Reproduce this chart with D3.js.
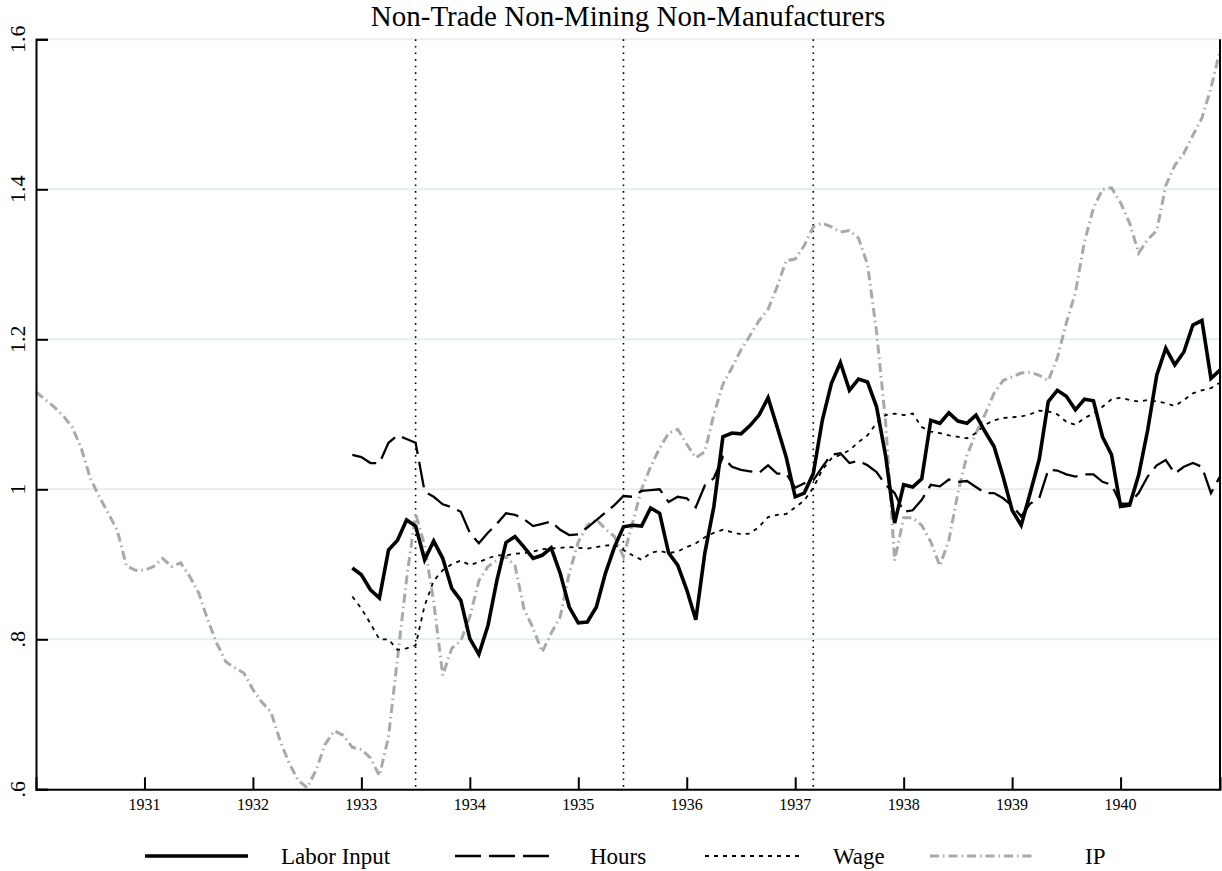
<!DOCTYPE html>
<html>
<head>
<meta charset="utf-8">
<script src="https://cdn.jsdelivr.net/npm/d3@7"></script>
<style>
    body { margin: 0; background: #fff; }
    svg { display: block; font-family: "Liberation Serif", "Times New Roman", serif; }
</style>
</head>
<body>
<div id="chart"></div>
<script>
// Monthly series, first value = January 1930 for IP, December 1932 for the others
const ipStart = 1930;
const ipValues = [
    1.130, 1.120, 1.110, 1.098, 1.083, 1.055, 1.015, 0.990, 0.968, 0.945, 0.898, 0.892,
    0.892, 0.897, 0.908, 0.897, 0.902, 0.884, 0.862, 0.826, 0.795, 0.770, 0.762, 0.755,
    0.733, 0.716, 0.703, 0.665, 0.635, 0.612, 0.602, 0.626, 0.660, 0.678, 0.672, 0.656,
    0.653, 0.642, 0.618, 0.670, 0.775, 0.880, 0.968, 0.925, 0.850, 0.752, 0.788, 0.798,
    0.830, 0.878, 0.897, 0.905, 0.910, 0.898, 0.840, 0.815, 0.783, 0.808, 0.830, 0.888,
    0.930, 0.952, 0.960, 0.947, 0.937, 0.910, 0.955, 1.000, 1.030, 1.055, 1.075, 1.080,
    1.060, 1.042, 1.050, 1.100, 1.140, 1.162, 1.186, 1.205, 1.225, 1.240, 1.270, 1.305,
    1.307, 1.325, 1.350, 1.355, 1.350, 1.343, 1.345, 1.335, 1.300, 1.210, 1.090, 0.905,
    0.962, 0.962, 0.952, 0.930, 0.898, 0.932, 0.995, 1.045, 1.075, 1.100, 1.128, 1.145,
    1.150, 1.155, 1.156, 1.152, 1.145, 1.175, 1.222, 1.262, 1.330, 1.375, 1.400, 1.402,
    1.382, 1.355, 1.315, 1.333, 1.345, 1.405, 1.432, 1.448, 1.472, 1.495, 1.535, 1.585
];

const laborStart = 1932 + 11 / 12;
const laborInput = [
    0.895,
    0.886, 0.866, 0.855, 0.919, 0.932, 0.959, 0.951, 0.906, 0.931, 0.908, 0.868, 0.852,
    0.801, 0.780, 0.818, 0.879, 0.929, 0.937, 0.923, 0.908, 0.912, 0.922, 0.888, 0.843,
    0.822, 0.823, 0.843, 0.888, 0.923, 0.950, 0.952, 0.951, 0.975, 0.968, 0.915, 0.899,
    0.866, 0.826, 0.915, 0.977, 1.070, 1.075, 1.074, 1.085, 1.099, 1.122, 1.083, 1.043,
    0.990, 0.995, 1.021, 1.092, 1.141, 1.169, 1.132, 1.147, 1.143, 1.110, 1.045, 0.955,
    1.006, 1.003, 1.014, 1.092, 1.088, 1.102, 1.091, 1.088, 1.099, 1.077, 1.057, 1.017,
    0.972, 0.952, 0.995, 1.040, 1.117, 1.132, 1.124, 1.106, 1.120, 1.118, 1.070, 1.046,
    0.977, 0.979, 1.019, 1.079, 1.152, 1.188, 1.166, 1.183, 1.219, 1.225, 1.148, 1.159
];
const hours = [
    1.046,
    1.043, 1.035, 1.035, 1.062, 1.072, 1.067, 1.062, 0.997, 0.990, 0.980, 0.976, 0.970,
    0.942, 0.928, 0.942, 0.954, 0.968, 0.966, 0.960, 0.951, 0.954, 0.957, 0.946, 0.939,
    0.940, 0.949, 0.959, 0.969, 0.979, 0.991, 0.990, 0.998, 0.999, 1.000, 0.983, 0.990,
    0.988, 0.976, 1.005, 1.015, 1.043, 1.030, 1.026, 1.024, 1.022, 1.032, 1.021, 1.021,
    1.002, 1.008, 1.012, 1.030, 1.046, 1.048, 1.035, 1.038, 1.032, 1.023, 1.006, 0.995,
    0.970, 0.972, 0.986, 1.006, 1.004, 1.013, 1.010, 1.011, 1.003, 0.995, 0.995, 0.988,
    0.978, 0.964, 0.981, 0.988, 1.026, 1.025, 1.020, 1.017, 1.020, 1.020, 1.010, 1.006,
    0.981, 0.981, 0.995, 1.017, 1.032, 1.039, 1.021, 1.030, 1.035, 1.030, 0.995, 1.017
];
const wage = [
    0.857,
    0.841, 0.821, 0.800, 0.800, 0.786, 0.788, 0.792, 0.845, 0.878, 0.892, 0.900, 0.905,
    0.899, 0.903, 0.908, 0.912, 0.912, 0.914, 0.915, 0.917, 0.920, 0.921, 0.922, 0.923,
    0.922, 0.921, 0.923, 0.925, 0.926, 0.919, 0.912, 0.906, 0.915, 0.918, 0.915, 0.917,
    0.923, 0.928, 0.936, 0.942, 0.946, 0.943, 0.940, 0.941, 0.950, 0.963, 0.966, 0.967,
    0.976, 0.985, 1.002, 1.026, 1.041, 1.046, 1.052, 1.063, 1.072, 1.088, 1.099, 1.101,
    1.099, 1.101, 1.083, 1.077, 1.075, 1.072, 1.070, 1.068, 1.075, 1.086, 1.092, 1.095,
    1.096, 1.097, 1.100, 1.105, 1.104, 1.100, 1.090, 1.086, 1.095, 1.101, 1.110, 1.120,
    1.122, 1.119, 1.117, 1.119, 1.117, 1.115, 1.111, 1.119, 1.128, 1.132, 1.135, 1.142
];

// Axis ticks and the three marked policy dates (Jul 1933, Jun 1935, Mar 1937)
const yearTicks = [1931, 1932, 1933, 1934, 1935, 1936, 1937, 1938, 1939, 1940];
const valueTicks = [0.6, 0.8, 1.0, 1.2, 1.4, 1.6];
const valueTickLabels = [".6", ".8", "1", "1.2", "1.4", "1.6"];
const eventDates = [1933 + 6 / 12, 1935 + 5 / 12, 1937 + 2 / 12];

const titleText = "Non-Trade Non-Mining Non-Manufacturers";
const seriesNames = ["Labor Input", "Hours", "Wage", "IP"];

const width = 1222, height = 871;
const plot = { left: 36, right: 1220, top: 39.3, bottom: 789.3 };

const styles = [
    { color: "#000", width: 3.6, dash: null },
    { color: "#000", width: 2.3, dash: "26,8" },
    { color: "#000", width: 1.8, dash: "4,5" },
    { color: "#a9a9a9", width: 3, dash: "9,4,1.5,4" }
];

const svg = d3.select("#chart")
    .append("svg")
    .attr("width", width)
    .attr("height", height);

const x = d3.scaleLinear()
    .domain([ipStart, ipStart + 131 / 12])
    .range([plot.left, plot.right]);

const y = d3.scaleLinear()
    .domain([0.6, 1.6])
    .range([plot.bottom, plot.top]);

// Light gridlines at each value tick
svg.append("g")
    .selectAll("line")
    .data(valueTicks)
    .join("line")
    .attr("x1", plot.left)
    .attr("x2", plot.right)
    .attr("y1", d => y(d))
    .attr("y2", d => y(d))
    .attr("stroke", "#e5eef1")
    .attr("stroke-width", 2);

// Vertical dotted event lines
svg.append("g")
    .selectAll("line")
    .data(eventDates)
    .join("line")
    .attr("x1", d => x(d))
    .attr("x2", d => x(d))
    .attr("y1", plot.top)
    .attr("y2", plot.bottom)
    .attr("stroke", "#000")
    .attr("stroke-width", 1.6)
    .attr("stroke-dasharray", "1.6,5");

// Series lines
function toPoints(values, start) {
    return values.map((v, i) => ({ t: start + i / 12, v: v }));
}

const line = d3.line()
    .x(d => x(d.t))
    .y(d => y(d.v));

const series = [
    toPoints(laborInput, laborStart),
    toPoints(hours, laborStart),
    toPoints(wage, laborStart),
    toPoints(ipValues, ipStart)
];

// draw IP first so the black lines sit on top
[3, 2, 1, 0].forEach(i => {
    svg.append("path")
        .datum(series[i])
        .attr("fill", "none")
        .attr("stroke", styles[i].color)
        .attr("stroke-width", styles[i].width)
        .attr("stroke-dasharray", styles[i].dash)
        .attr("stroke-linejoin", "miter")
        .attr("d", line);
});

// Axes: left (labels rotated), bottom, and a plain right border
const yAxis = svg.append("g")
    .attr("transform", `translate(${plot.left},0)`)
    .call(d3.axisRight(y)
        .tickValues(valueTicks)
        .tickSize(12)
        .tickFormat(() => ""));

const xAxis = svg.append("g")
    .attr("transform", `translate(0,${plot.bottom})`)
    .call(d3.axisTop(x)
        .tickValues(yearTicks)
        .tickSize(12)
        .tickFormat(() => ""));

[yAxis, xAxis].forEach(ax => {
    ax.select(".domain").attr("stroke", "#000").attr("stroke-width", 2);
    ax.selectAll(".tick line").attr("stroke", "#000").attr("stroke-width", 2);
});

svg.append("line")
    .attr("x1", plot.right)
    .attr("x2", plot.right)
    .attr("y1", plot.top)
    .attr("y2", plot.bottom)
    .attr("stroke", "#000")
    .attr("stroke-width", 2);

svg.append("g")
    .selectAll("text")
    .data(valueTicks)
    .join("text")
    .attr("transform", d => `translate(25,${y(d)}) rotate(-90)`)
    .attr("text-anchor", "middle")
    .attr("font-size", 22)
    .text((d, i) => valueTickLabels[i]);

svg.append("g")
    .selectAll("text")
    .data(yearTicks)
    .join("text")
    .attr("x", d => x(d))
    .attr("y", 810)
    .attr("text-anchor", "middle")
    .attr("font-size", 16)
    .text(d => d);

// Title
svg.append("text")
    .attr("x", 628)
    .attr("y", 26)
    .attr("text-anchor", "middle")
    .attr("font-size", 29)
    .text(titleText);

// Legend along the bottom
const legendKeys = [
    { x1: 145, x2: 248, tx: 281 },
    { x1: 455, x2: 550, tx: 590 },
    { x1: 705, x2: 800, tx: 833 },
    { x1: 930, x2: 1035, tx: 1085 }
];
const legendY = 856;

const legend = svg.append("g")
    .selectAll("g")
    .data(seriesNames)
    .join("g");

legend.append("line")
    .attr("x1", (d, i) => legendKeys[i].x1)
    .attr("x2", (d, i) => legendKeys[i].x2)
    .attr("y1", legendY)
    .attr("y2", legendY)
    .attr("stroke", (d, i) => styles[i].color)
    .attr("stroke-width", (d, i) => styles[i].width)
    .attr("stroke-dasharray", (d, i) => styles[i].dash);

legend.append("text")
    .attr("x", (d, i) => legendKeys[i].tx)
    .attr("y", legendY + 8)
    .attr("font-size", 23)
    .text(d => d);
</script>
</body>
</html>
